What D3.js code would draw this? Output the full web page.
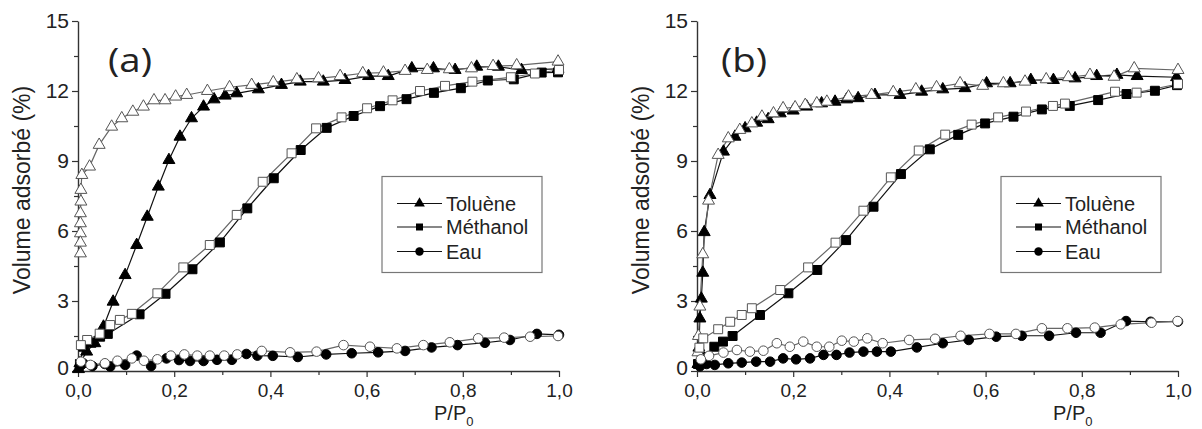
<!DOCTYPE html>
<html><head><meta charset="utf-8">
<script src="https://cdn.jsdelivr.net/npm/d3@7"></script>
<style>body{margin:0;background:#fff}svg{display:block}</style>
</head><body><svg id="c" width="1202" height="429"></svg>
<script>
// ---------- data ----------
const yTicks=[0,3,6,9,12,15];
const yMinor=[1.5,4.5,7.5,10.5,13.5];
const xTicks=[0,0.2,0.4,0.6,0.8,1.0];
const xMinor=[0.1,0.3,0.5,0.7,0.9];
const legendLabels=["Toluène","Méthanol","Eau"];
const panelLabels=["(a)","(b)"];
const xTitle="P/P";
const yTitle="Volume adsorbé (%)";

// Panel (a)
const tolAdsA=[[0.001,0.08],[0.004,0.33],[0.018,0.83],[0.035,1.19],[0.053,1.9],[0.073,2.97],[0.098,4.11],[0.122,5.4],[0.144,6.61],[0.167,7.9],[0.189,9.04],[0.212,10.04],[0.236,10.83],[0.261,11.33],[0.283,11.64],[0.306,11.8],[0.33,11.9],[0.375,12.07],[0.423,12.26],[0.462,12.4],[0.51,12.4],[0.555,12.47],[0.604,12.64],[0.645,12.64],[0.694,12.97],[0.739,12.97],[0.784,12.9],[0.829,13.04],[0.874,13.04],[0.922,12.9],[0.998,12.95]];
const tolDesA=[[0.998,13.26],[0.912,13.1],[0.863,13.07],[0.818,12.97],[0.772,12.93],[0.726,12.9],[0.68,12.86],[0.635,12.79],[0.592,12.76],[0.545,12.64],[0.5,12.54],[0.455,12.5],[0.406,12.37],[0.361,12.26],[0.315,12.16],[0.269,12.0],[0.226,11.83],[0.203,11.76],[0.181,11.6],[0.158,11.6],[0.136,11.33],[0.114,11.11],[0.091,10.83],[0.07,10.47],[0.044,9.69],[0.024,8.76],[0.008,8.4],[0.006,7.76],[0.006,7.26],[0.005,6.76],[0.005,6.33],[0.005,5.9],[0.005,5.5],[0.005,5.04]];
const metAdsA=[[0.004,0.3],[0.011,1.04],[0.028,1.21],[0.046,1.47],[0.062,1.59],[0.128,2.43],[0.182,3.31],[0.238,4.36],[0.295,5.51],[0.352,6.97],[0.407,8.26],[0.463,9.47],[0.517,10.42],[0.573,10.93],[0.628,11.35],[0.683,11.65],[0.74,11.92],[0.796,12.12],[0.852,12.45],[0.906,12.5],[0.964,12.79],[0.998,12.8]];
const metDesA=[[1.0,12.9],[0.95,12.75],[0.9,12.59],[0.82,12.4],[0.763,12.22],[0.711,12.0],[0.654,11.6],[0.601,11.26],[0.548,10.87],[0.495,10.4],[0.444,9.33],[0.384,8.11],[0.33,6.69],[0.274,5.4],[0.219,4.44],[0.165,3.33],[0.112,2.45],[0.087,2.19],[0.067,1.97],[0.045,1.6],[0.019,1.33],[0.006,1.11]];
const eauAdsA=[[0.004,0.2],[0.011,0.33],[0.03,0.21],[0.056,0.3],[0.067,0.19],[0.098,0.26],[0.122,0.66],[0.152,0.21],[0.184,0.54],[0.21,0.47],[0.233,0.43],[0.261,0.43],[0.289,0.48],[0.32,0.48],[0.35,0.73],[0.373,0.66],[0.405,0.65],[0.457,0.6],[0.516,0.71],[0.569,0.76],[0.624,0.8],[0.68,0.86],[0.735,1.01],[0.789,1.11],[0.846,1.21],[0.898,1.33],[0.954,1.59],[1.0,1.55]];
const eauDesA=[[0.998,1.5],[0.94,1.47],[0.886,1.43],[0.832,1.4],[0.773,1.23],[0.718,1.11],[0.663,0.97],[0.607,1.04],[0.552,1.11],[0.496,0.83],[0.441,0.8],[0.382,0.86],[0.331,0.71],[0.304,0.66],[0.274,0.66],[0.248,0.66],[0.221,0.71],[0.193,0.66],[0.165,0.5],[0.137,0.44],[0.112,0.54],[0.082,0.44],[0.056,0.33],[0.026,0.26],[0.006,0.4]];

// Panel (b)
const tolAdsB=[[0.002,0.3],[0.004,1.0],[0.006,2.25],[0.009,3.1],[0.012,4.21],[0.015,5.95],[0.027,7.54],[0.055,9.4],[0.079,10.04],[0.1,10.4],[0.124,10.64],[0.148,10.79],[0.173,11.04],[0.2,11.16],[0.228,11.33],[0.259,11.47],[0.287,11.54],[0.311,11.64],[0.335,11.69],[0.37,11.83],[0.422,11.83],[0.467,11.97],[0.511,12.07],[0.557,12.12],[0.602,12.33],[0.651,12.33],[0.694,12.47],[0.741,12.47],[0.786,12.54],[0.831,12.64],[0.873,12.69],[0.915,12.64],[0.997,12.59]];
const tolDesB=[[1.0,12.9],[0.909,12.97],[0.867,12.61],[0.817,12.69],[0.772,12.59],[0.726,12.5],[0.682,12.4],[0.637,12.33],[0.594,12.22],[0.547,12.33],[0.498,12.16],[0.455,12.07],[0.408,11.95],[0.363,11.83],[0.315,11.76],[0.27,11.54],[0.249,11.47],[0.225,11.4],[0.204,11.3],[0.179,11.26],[0.159,11.04],[0.135,10.9],[0.114,10.61],[0.089,10.33],[0.065,9.97],[0.044,9.26],[0.024,7.3],[0.012,5.0],[0.006,2.76],[0.003,1.5],[0.002,0.8]];
const metAdsB=[[0.002,0.3],[0.015,0.6],[0.036,1.04],[0.054,1.26],[0.074,1.5],[0.131,2.4],[0.19,3.33],[0.25,4.33],[0.31,5.61],[0.367,7.04],[0.424,8.44],[0.484,9.5],[0.543,10.12],[0.599,10.61],[0.658,10.9],[0.717,11.21],[0.775,11.36],[0.834,11.61],[0.893,11.87],[0.952,12.01],[0.998,12.25]];
const metDesB=[[1.0,12.3],[0.914,11.93],[0.869,11.97],[0.765,11.46],[0.74,11.36],[0.684,11.12],[0.626,10.87],[0.571,10.56],[0.516,10.13],[0.461,9.45],[0.403,8.3],[0.346,6.87],[0.288,5.5],[0.231,4.44],[0.173,3.47],[0.114,2.69],[0.093,2.4],[0.069,2.11],[0.044,1.79],[0.013,1.4],[0.005,1.0]];
const eauAdsB=[[0.006,0.2],[0.02,0.3],[0.037,0.26],[0.065,0.33],[0.093,0.36],[0.123,0.4],[0.152,0.4],[0.179,0.54],[0.206,0.5],[0.235,0.54],[0.263,0.69],[0.29,0.69],[0.317,0.79],[0.346,0.83],[0.374,0.83],[0.403,0.83],[0.457,1.01],[0.511,1.19],[0.565,1.33],[0.622,1.47],[0.675,1.51],[0.732,1.51],[0.788,1.64],[0.839,1.64],[0.892,2.14],[0.943,2.11],[1.0,2.12]];
const eauDesB=[[0.999,2.14],[0.945,2.07],[0.881,2.0],[0.827,1.86],[0.77,1.83],[0.717,1.83],[0.663,1.59],[0.608,1.59],[0.548,1.51],[0.495,1.38],[0.441,1.33],[0.386,1.19],[0.354,1.4],[0.326,1.26],[0.301,1.3],[0.275,1.04],[0.249,1.04],[0.221,1.26],[0.193,1.04],[0.166,1.19],[0.138,0.87],[0.11,0.83],[0.083,0.9],[0.055,0.79],[0.025,0.65],[0.008,0.5]];

// ---------- drawing ----------
const svg=d3.select("#c");
const FONT="'Liberation Sans', Arial, sans-serif";
const AX="#333";
const y=d3.scaleLinear().domain([0,15]).range([371,21]);
const shapes={tri:d3.symbolTriangle,sq:d3.symbolSquare,ci:d3.symbolCircle};
const sizes={tri:62,sq:80,ci:72};

const panels=[
  {x0:78,x1:559,label:panelLabels[0],labelX:108,legX:382,ylabX:30,xtX:434,
   series:[[tolAdsA,"tri",true],[metAdsA,"sq",true],[eauAdsA,"ci",true],[tolDesA,"tri",false],[metDesA,"sq",false],[eauDesA,"ci",false]]},
  {x0:697,x1:1178,label:panelLabels[1],labelX:721,legX:1001,ylabX:649,xtX:1053,
   series:[[tolAdsB,"tri",true],[metAdsB,"sq",true],[eauAdsB,"ci",true],[tolDesB,"tri",false],[metDesB,"sq",false],[eauDesB,"ci",false]]}
];

panels.forEach(p=>{
  const x=d3.scaleLinear().domain([0,1]).range([p.x0,p.x1]);
  const g=svg.append("g");

  // minor ticks
  g.append("g").attr("transform","translate(0,371)")
   .call(d3.axisBottom(x).tickValues(xMinor).tickSize(4).tickSizeOuter(0).tickFormat(""))
   .call(s=>s.select(".domain").remove()).selectAll("line").attr("stroke",AX).attr("stroke-width",1.2);
  g.append("g").attr("transform",`translate(${p.x0},0)`)
   .call(d3.axisLeft(y).tickValues(yMinor).tickSize(4).tickSizeOuter(0).tickFormat(""))
   .call(s=>s.select(".domain").remove()).selectAll("line").attr("stroke",AX).attr("stroke-width",1.2);

  // major axes
  const xa=g.append("g").attr("transform","translate(0,371)")
   .call(d3.axisBottom(x).tickValues(xTicks).tickSize(6).tickSizeOuter(0).tickPadding(6.5)
     .tickFormat(d=>d3.format(".1f")(d).replace(".",",")));
  const ya=g.append("g").attr("transform",`translate(${p.x0},0)`)
   .call(d3.axisLeft(y).tickValues(yTicks).tickSize(6).tickSizeOuter(0).tickPadding(3).tickFormat(d=>d));
  xa.attr("font-size",19);
  ya.attr("font-size",21);
  ya.selectAll("text").filter(d=>d===0).attr("y",-3);
  [xa,ya].forEach(a=>{
    a.attr("font-family",FONT);
    a.selectAll("text").attr("fill","#222");
    a.selectAll("line").attr("stroke",AX).attr("stroke-width",1.2);
    a.select(".domain").attr("stroke",AX).attr("stroke-width",1.4);
  });

  // series
  const line=d3.line().x(d=>x(d[0])).y(d=>y(d[1]));
  p.series.forEach(([data,shape,filled])=>{
    g.append("path").attr("d",line(data)).attr("fill","none")
     .attr("stroke",filled?"#111":"#666").attr("stroke-width",1.2);
  });
  p.series.forEach(([data,shape,filled])=>{
    g.selectAll(null).data(data).enter().append("path")
     .attr("transform",d=>`translate(${x(d[0])},${y(d[1])})`)
     .attr("d",d3.symbol().type(shapes[shape]).size(sizes[shape]))
     .attr("fill",filled?"#000":"#fff")
     .attr("stroke",filled?"#000":"#555").attr("stroke-width",1);
  });

  // axis titles
  g.append("text").attr("transform",`translate(${p.ylabX},190) rotate(-90)`)
   .attr("text-anchor","middle").attr("font-family",FONT).attr("font-size",23).attr("fill","#222").text(yTitle);
  const xt=g.append("text").attr("x",p.xtX).attr("y",419.5).attr("font-family",FONT).attr("font-size",20).attr("fill","#222");
  xt.append("tspan").text(xTitle);
  xt.append("tspan").attr("dy",6).attr("font-size",13).text("0");

  // panel label
  g.append("text").attr("transform",`translate(${p.labelX},72) scale(1.2,1)`)
   .attr("font-family","'Open Sans', sans-serif").attr("font-size",32).attr("fill","#222").text(p.label);

  // legend
  const lg=g.append("g");
  lg.append("rect").attr("x",p.legX).attr("y",176.5).attr("width",160).attr("height",96)
   .attr("fill","#fff").attr("stroke","#777").attr("stroke-width",1.2);
  const ly=[203.5,227,251.5];
  ["tri","sq","ci"].forEach((s,i)=>{
    lg.append("line").attr("x1",p.legX+15).attr("x2",p.legX+60).attr("y1",ly[i]).attr("y2",ly[i])
      .attr("stroke","#111").attr("stroke-width",1.2);
    lg.append("path").attr("transform",`translate(${p.legX+37.5},${ly[i]})`)
      .attr("d",d3.symbol().type(shapes[s]).size(s==="tri"?50:s==="sq"?49:56)).attr("fill","#000");
    lg.append("text").attr("x",p.legX+64).attr("y",ly[i]+7).attr("font-family",FONT)
      .attr("font-size",20).attr("fill","#222").text(legendLabels[i]);
  });
});
</script></body></html>
